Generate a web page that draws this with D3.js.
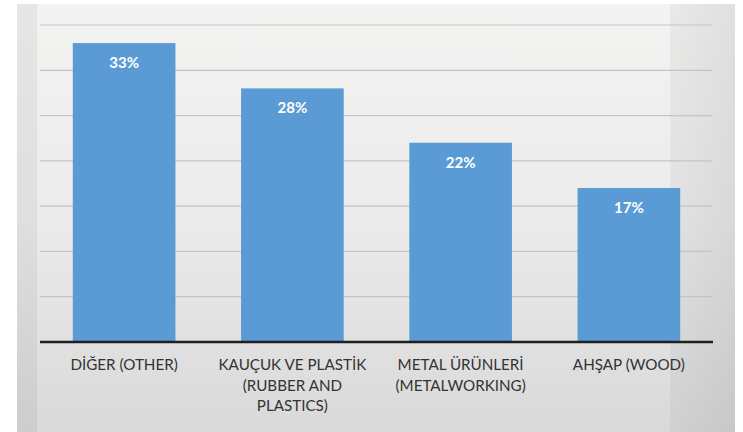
<!DOCTYPE html>
<html><head><meta charset="utf-8">
<script src="https://cdn.jsdelivr.net/npm/d3@7"></script>
<style>html,body{margin:0;padding:0;background:#fff;}svg{display:block;}</style>
</head><body><svg id="c" width="743" height="432"></svg>
<script>
const categories = [["DİĞER (OTHER)"], ["KAUÇUK VE PLASTİK", "(RUBBER AND", "PLASTICS)"], ["METAL ÜRÜNLERİ", "(METALWORKING)"], ["AHŞAP (WOOD)"]];
const categoryKeys = ["DİĞER (OTHER)", "KAUÇUK VE PLASTİK (RUBBER AND PLASTICS)", "METAL ÜRÜNLERİ (METALWORKING)", "AHŞAP (WOOD)"];
const values = [33, 28, 22, 17];
const valueLabels = ["33%", "28%", "22%", "17%"];
const gridTicks = [0, 5, 10, 15, 20, 25, 30, 35];

const svg = d3.select("#c");
const defs = svg.append("defs");
const g1 = defs.append("linearGradient").attr("id","bg").attr("x1",0).attr("y1",0).attr("x2",0).attr("y2",1);
g1.append("stop").attr("offset","0").attr("stop-color","#f3f3f2");
g1.append("stop").attr("offset","0.5").attr("stop-color","#ebebeb");
g1.append("stop").attr("offset","1").attr("stop-color","#d9d9d9");
const g2 = defs.append("linearGradient").attr("id","side").attr("x1",0).attr("y1",0).attr("x2",1).attr("y2",0);
g2.append("stop").attr("offset","0").attr("stop-color","#000").attr("stop-opacity",0.04);
g2.append("stop").attr("offset","1").attr("stop-color","#000").attr("stop-opacity",0.08);

svg.append("rect").attr("x",17).attr("y",4).attr("width",718).attr("height",428).attr("fill","url(#bg)");
svg.append("rect").attr("x",17).attr("y",4).attr("width",20).attr("height",428).attr("fill","#000").attr("opacity",0.05);
svg.append("rect").attr("x",670).attr("y",4).attr("width",65).attr("height",428).attr("fill","url(#side)");

const pLeft = 40, pRight = 713, pTop = 25, pBottom = 342;
const x = d3.scaleBand().domain(categoryKeys).range([pLeft, pRight]).paddingInner(0.39).paddingOuter(0.195);
const y = d3.scaleLinear().domain([0, 35]).range([pBottom, pTop]);

svg.append("g").selectAll("line").data(gridTicks.filter(d => d > 0)).join("line")
  .attr("x1", pLeft).attr("x2", pRight - 1)
  .attr("y1", d => y(d)).attr("y2", d => y(d))
  .attr("stroke", "#c4c4c4").attr("stroke-width", 1.2);

svg.append("g").selectAll("rect").data(values).join("rect")
  .attr("x", (d,i) => x(categoryKeys[i]))
  .attr("y", d => y(d))
  .attr("width", x.bandwidth())
  .attr("height", d => y(0) - y(d))
  .attr("fill", "#5b9bd5");

svg.append("g").selectAll("text").data(values).join("text")
  .attr("x", (d,i) => x(categoryKeys[i]) + x.bandwidth()/2)
  .attr("y", d => y(d) + 25)
  .attr("text-anchor", "middle")
  .attr("font-family", "Lato, 'Open Sans', sans-serif")
  .attr("font-weight", "bold")
  .attr("font-size", 15)
  .attr("fill", "#ffffff")
  .text((d,i) => valueLabels[i]);

const xAxis = d3.axisBottom(x).tickSize(0).tickFormat("");
svg.append("g").attr("transform", `translate(0,${pBottom})`).call(xAxis)
  .call(g => g.select(".domain").attr("stroke", "#1f1f1f").attr("stroke-width", 2.6).attr("d", `M${pLeft},0H${pRight}`));

const lab = svg.append("g");
categories.forEach((lines, i) => {
  const t = lab.append("text")
    .attr("x", x(categoryKeys[i]) + x.bandwidth()/2)
    .attr("y", 370)
    .attr("text-anchor", "middle")
    .attr("font-family", "Lato, 'Open Sans', sans-serif")
    .attr("font-size", 15.2)
    .attr("fill", "#333333");
  lines.forEach((l, j) => t.append("tspan").attr("x", x(categoryKeys[i]) + x.bandwidth()/2).attr("dy", j ? 20.5 : 0).text(l));
});
</script></body></html>
